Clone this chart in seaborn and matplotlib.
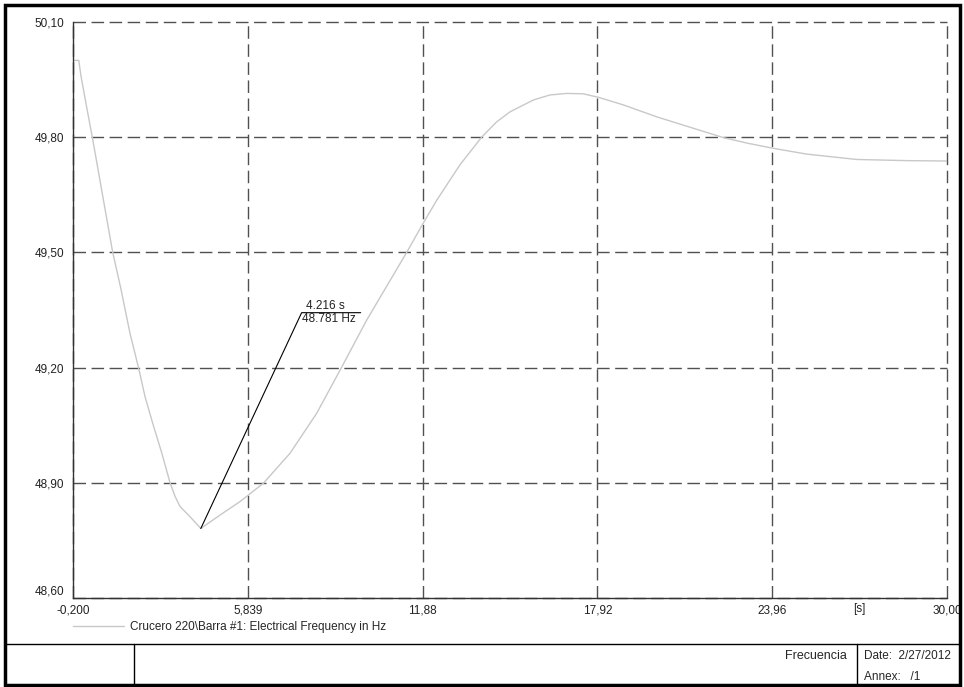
import numpy as np
import pandas as pd
import seaborn as sns
import matplotlib
matplotlib.use("Agg")
import matplotlib.pyplot as plt
from matplotlib.lines import Line2D
from matplotlib.patches import Rectangle
from matplotlib.ticker import FixedLocator


# values
time_s = [-0.19, 0.0, 0.07, 0.27, 0.47, 1.17, 1.45, 1.77, 2.06, 2.29,
          2.55, 2.87, 3.15, 3.33, 3.50, 3.84, 4.216, 4.88, 5.57, 6.38, 7.30, 8.22,
          9.09, 9.95, 10.64, 11.33, 11.90, 12.37, 13.17, 13.92, 14.44, 14.90,
          15.71, 16.28, 16.86, 17.43, 17.95, 18.82, 19.97, 21.12, 22.27, 23.13,
          24.00, 25.15, 26.88, 28.61, 29.99]
freq_hz = [50.00, 50.00, 49.962, 49.879, 49.799, 49.501, 49.407,
           49.289, 49.201, 49.124, 49.056, 48.977, 48.901, 48.864, 48.838, 48.812, 48.781,
           48.816, 48.851, 48.899, 48.977, 49.081, 49.202, 49.324, 49.412, 49.500, 49.576,
           49.636, 49.728, 49.800, 49.840, 49.866, 49.897, 49.910, 49.914, 49.913,
           49.904, 49.884, 49.853, 49.826, 49.799, 49.784, 49.771, 49.756, 49.742, 49.739,
           49.738]

x_ticks = [-0.2, 5.839, 11.88, 17.92, 23.96, 30.0]
x_labels = ["-0,200", "5,839", "11,88", "17,92", "23,96", "30,00"]
y_ticks = [48.6, 48.9, 49.2, 49.5, 49.8, 50.1]
y_labels = ["48,60", "48,90", "49,20", "49,50", "49,80", "50,10"]

series_name = "Crucero 220\\Barra #1: Electrical Frequency in Hz"
marker_t, marker_f = 4.216, 48.781
label_anchor = (7.70, 49.343, 9.74)

df = pd.DataFrame({"t": time_s, "f": freq_hz})

sns.set_style("white")
plt.rcParams["font.family"] = ["Liberation Sans", "DejaVu Sans"]
plt.rcParams["font.size"] = 8.5

fig = plt.figure(figsize=(9.64, 6.87), dpi=100)
ax = fig.add_axes([73 / 964, 1 - 598 / 687, 874 / 964, 576 / 687])

sns.lineplot(data=df, x="t", y="f", color="#c8c8c8", linewidth=1.0, ax=ax,
             label=series_name)

# cursor annotation
ax.plot([marker_t, label_anchor[0], label_anchor[2]],
        [marker_f, label_anchor[1], label_anchor[1]], color="black", linewidth=0.8)
ax.text(label_anchor[0] + 0.15, label_anchor[1] + 0.003, f"{marker_t:.3f} s",
        va="bottom", ha="left", fontsize=8.5, color="#222222")
ax.text(label_anchor[0] + 0.02, label_anchor[1] - 0.001, f"{marker_f:.3f} Hz",
        va="top", ha="left", fontsize=8.5, color="#222222")

ax.set_xlim(x_ticks[0], x_ticks[-1])
ax.set_ylim(y_ticks[0], y_ticks[-1])
ax.set_xticks(x_ticks)
ax.set_xticklabels(x_labels)
ax.set_yticks(y_ticks)
ax.set_yticklabels(y_labels)
ax.xaxis.set_minor_locator(FixedLocator([(a + b) / 2 for a, b in zip(x_ticks[:-1], x_ticks[1:])]))
ax.yaxis.set_minor_locator(FixedLocator([(a + b) / 2 for a, b in zip(y_ticks[:-1], y_ticks[1:])]))
ax.set_xlabel("")
ax.set_ylabel("")

ax.grid(True, which="major", color="#505050", linestyle=(0, (9, 4)), linewidth=1.0)
for gl in ax.xaxis.get_gridlines() + ax.yaxis.get_gridlines():
    gl.set_clip_on(False)
ax.tick_params(which="major", direction="in", length=0, labelsize=8.5, colors="#222222")
ax.tick_params(axis="x", which="major", pad=5)
ax.tick_params(axis="y", which="major", pad=6)
ax.tick_params(which="minor", direction="in", length=3, width=0.8, color="#444444")
ax.get_yticklabels()[0].set_verticalalignment("bottom")

for side in ["top", "right"]:
    ax.spines[side].set_visible(False)
for side in ["left", "bottom"]:
    ax.spines[side].set_color("#333333")
    ax.spines[side].set_linewidth(1.0)

ax.text(26.98, 48.6 - 0.013, "[s]", ha="center", va="top", fontsize=8.5, color="#222222")

leg = ax.legend(loc="upper left", bbox_to_anchor=(0.0, -0.040), frameon=False,
                borderaxespad=0, borderpad=0, handlelength=4.3, handletextpad=0.55,
                fontsize=8.5)

# title block
W, H = 964, 687
def fx(p):
    return p / W
def fy(p):
    return 1 - p / H

fig.add_artist(Line2D([fx(5), fx(960)], [fy(644), fy(644)], color="black", linewidth=1.0))
fig.add_artist(Line2D([fx(134), fx(134)], [fy(644), fy(684)], color="black", linewidth=1.0))
fig.add_artist(Line2D([fx(857), fx(857)], [fy(644), fy(684)], color="black", linewidth=1.0))
fig.add_artist(Rectangle((fx(5), fy(685)), fx(955), 680 / H, fill=False,
                         edgecolor="black", linewidth=2.5))

fig.text(fx(847), fy(656), "Frecuencia", ha="right", va="center", fontsize=9)
fig.text(fx(864), fy(656), "Date:  2/27/2012", ha="left", va="center", fontsize=8.5)
fig.text(fx(864), fy(677), "Annex:   /1", ha="left", va="center", fontsize=8.5)

fig.savefig("out.png", dpi=100, facecolor="white")
